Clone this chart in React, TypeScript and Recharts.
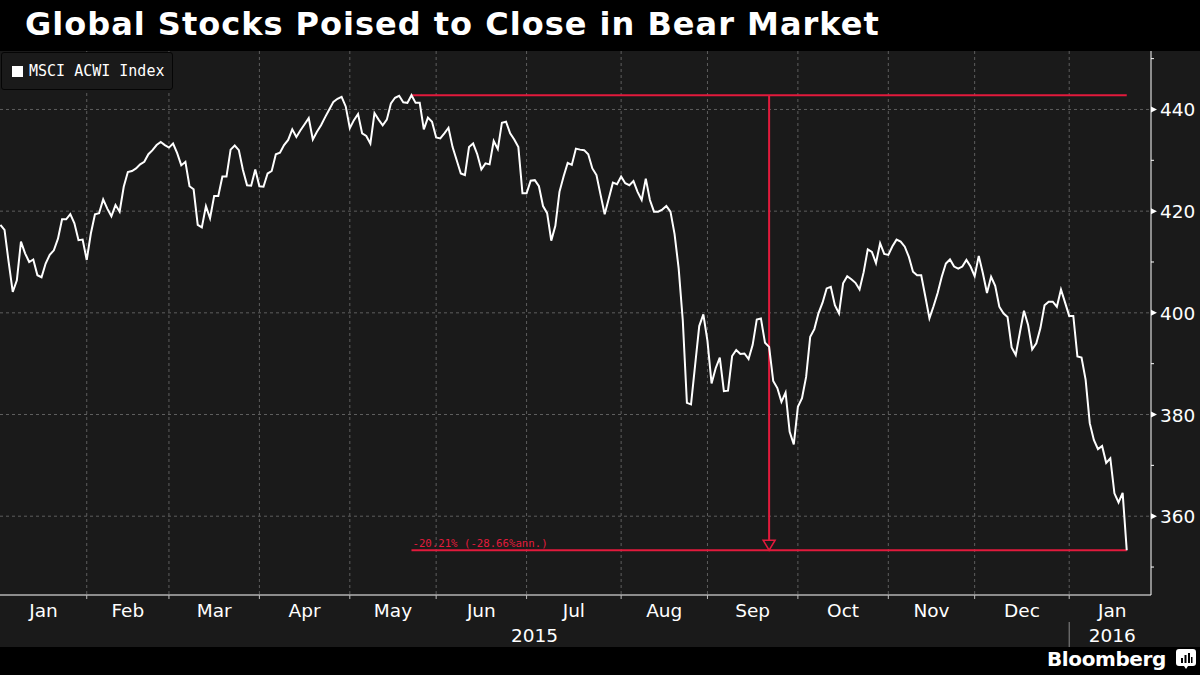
import React from "react";
import {
  LineChart,
  Line,
  XAxis,
  YAxis,
  CartesianGrid,
  ReferenceLine,
  ReferenceDot,
  Legend,
} from "recharts";

// MSCI ACWI daily closes, one array per month (weekdays)
const jan15 = [417.3, 416.3, 410.0, 404.1, 406.4, 414.0, 411.7, 410.0, 410.5, 407.4, 407.0, 409.7, 411.4, 412.3, 414.6, 418.4, 418.4, 419.4, 417.6, 414.3, 414.4];
const feb15 = [410.4, 415.6, 419.4, 419.6, 422.3, 420.5, 419.0, 421.2, 419.9, 424.8, 427.7, 427.9, 428.4, 429.2, 429.7, 431.2, 432.0, 433.0, 433.6, 433.0];
const mar15 = [432.5, 433.3, 431.4, 429.0, 429.7, 424.9, 424.3, 417.3, 416.8, 421.0, 418.6, 423.0, 423.0, 426.8, 426.8, 432.1, 432.9, 432.0, 428.1, 425.1, 425.0, 428.2];
const apr15 = [424.9, 424.8, 427.4, 427.9, 431.2, 431.5, 433.0, 434.0, 436.1, 434.6, 435.9, 437.1, 438.3, 434.1, 435.6, 436.9, 438.5, 440.0, 441.5, 442.1, 442.5, 440.6];
const may15 = [436.3, 437.9, 439.1, 435.3, 434.8, 433.3, 439.3, 438.0, 436.9, 438.0, 441.2, 442.3, 442.7, 441.4, 441.3, 442.8, 441.3, 441.3, 436.1, 438.4, 437.6];
const jun15 = [434.5, 434.3, 435.3, 436.4, 432.6, 430.0, 427.4, 427.1, 432.6, 433.3, 431.2, 428.2, 429.4, 429.2, 433.8, 432.2, 437.4, 437.6, 435.3, 434.1, 432.6, 423.5];
const jul15 = [423.5, 426.0, 426.1, 424.9, 421.0, 419.6, 414.2, 417.1, 423.8, 426.8, 429.5, 429.1, 432.3, 432.1, 432.0, 431.2, 428.4, 427.1, 423.2, 419.4, 422.5, 425.6, 425.3];
const aug15 = [426.8, 425.5, 425.1, 425.9, 423.8, 422.2, 426.4, 422.2, 419.9, 419.9, 420.3, 421.0, 419.9, 415.5, 408.7, 398.5, 382.3, 382.0, 389.7, 397.4, 399.7];
const sep15 = [394.5, 386.1, 389.1, 391.2, 384.6, 384.7, 391.5, 392.7, 391.9, 392.0, 390.9, 393.7, 398.7, 398.9, 394.1, 393.3, 386.6, 385.2, 382.5, 384.3, 376.6, 374.1];
const oct15 = [381.5, 383.2, 387.4, 395.3, 396.8, 399.9, 402.0, 404.8, 405.1, 401.5, 399.9, 405.8, 407.2, 406.6, 405.9, 404.6, 408.0, 412.5, 412.0, 409.8, 413.7, 411.6];
const nov15 = [411.4, 413.1, 414.4, 414.0, 413.0, 411.0, 408.1, 407.4, 407.4, 403.2, 398.9, 401.3, 403.9, 407.1, 409.7, 410.5, 409.1, 408.7, 409.1, 410.4, 409.1];
const dec15 = [407.2, 411.2, 407.8, 403.9, 407.1, 405.3, 401.2, 399.9, 399.2, 393.2, 391.7, 396.1, 400.4, 397.6, 392.8, 394.0, 397.0, 401.5, 402.2, 402.2, 401.2, 404.6, 402.0];
const jan16 = [399.4, 399.4, 391.4, 391.2, 386.8, 378.3, 375.0, 373.2, 373.8, 370.5, 371.4, 364.5, 362.7, 364.6, 353.3];

const monthLabels = ["Jan", "Feb", "Mar", "Apr", "May", "Jun", "Jul", "Aug", "Sep", "Oct", "Nov", "Dec", "Jan"];
const yearLabels = ["2015", "2016"];
const yTicks = [350, 360, 370, 380, 390, 400, 410, 420, 430, 440, 450];
const gridValues = [360, 380, 400, 420, 440];
const seriesName = "MSCI ACWI Index";
const annText = "-20.21% (-28.66%ann.)";
const title = "Global Stocks Poised to Close in Bear Market";

const BG = "#1a1a1a";
const GRID = "#5e5e5e";
const RED = "#e21a3c";
const X_DOMAIN: [number, number] = [0.9, 280.9];
const LAST_MONTH_DAYS = 21;

// build the series: x is the weekday index
const months = [jan15, feb15, mar15, apr15, may15, jun15, jul15, aug15, sep15, oct15, nov15, dec15, jan16];
const monthStarts: number[] = [];
const data: { i: number; v: number }[] = [];
let n = 1;
months.forEach((m) => {
  monthStarts.push(n);
  m.forEach((v) => data.push({ i: n++, v }));
});
const monthEnds = monthStarts.slice(1).concat(monthStarts[monthStarts.length - 1] + LAST_MONTH_DAYS);
const monthCenters = monthStarts.map((s, k) => (s + monthEnds[k]) / 2);
const boundaries = monthStarts.slice(1);
const yearStart = monthStarts[12];
const yearCenters = [(X_DOMAIN[0] + yearStart) / 2, monthCenters[12]];

const vals = data.map((d) => d.v);
const peakV = Math.max(...vals);
const peakI = data[vals.lastIndexOf(peakV)].i;
const last = data[data.length - 1];
const midI = (peakI + last.i) / 2;

const font = "'DejaVu Sans', sans-serif";

const EmptyTick = () => <g />;

const YTick = (props: any) => {
  const { x, y, payload } = props;
  if (payload.value % 20 !== 0) {
    return <line x1={x} x2={x + 3} y1={y} y2={y} stroke="#fff" />;
  }
  return (
    <g>
      <polygon points={`${x},${y - 3} ${x + 6},${y} ${x},${y + 3}`} fill="#fff" />
      <text x={x + 9} y={y + 7} fill="#fff" fontSize={18.5} fontFamily={font}>
        {payload.value}
      </text>
    </g>
  );
};

const MonthTick = (props: any) => {
  const { x, y, payload } = props;
  const k = monthCenters.indexOf(payload.value);
  return (
    <text x={x} y={y + 21} fill="#fff" fontSize={18.5} fontFamily={font} textAnchor="middle">
      {monthLabels[k]}
    </text>
  );
};

const YearTick = (props: any) => {
  const { x, y, payload } = props;
  if (payload.value === yearStart) {
    return <line x1={x} x2={x} y1={y + 25} y2={y + 50} stroke="#8a8a8a" />;
  }
  const k = yearCenters.indexOf(payload.value);
  return (
    <text x={x} y={y + 45} fill="#fff" fontSize={18.5} fontFamily={font} textAnchor="middle">
      {yearLabels[k]}
    </text>
  );
};

const LegendBox = () => (
  <div
    style={{
      width: 172,
      height: 38,
      boxSizing: "border-box",
      border: "1px solid #050505",
      borderRadius: 3,
      background: BG,
      display: "flex",
      alignItems: "center",
      paddingLeft: 10,
      fontFamily: "'DejaVu Sans Mono', monospace",
      fontSize: 15,
      color: "#fff",
    }}
  >
    <span style={{ width: 11, height: 11, background: "#fff", marginRight: 6, display: "inline-block" }} />
    {seriesName}
  </div>
);

const Arrow = (props: any) => {
  const { cx, cy } = props;
  return (
    <polygon
      points={`${cx - 6},${cy - 10} ${cx + 6},${cy - 10} ${cx},${cy}`}
      fill={BG}
      stroke={RED}
      strokeWidth={1.5}
    />
  );
};

const AnnLabel = (props: any) => {
  const { cx, cy } = props;
  return (
    <text x={cx + 1} y={cy - 3} fill={RED} fontSize={10.7} fontFamily="'DejaVu Sans Mono', monospace">
      {annText}
    </text>
  );
};

export default function App() {
  return (
    <div style={{ position: "absolute", left: 0, top: 0, width: 1200, height: 675, background: "#000", overflow: "hidden" }}>
      <div
        style={{
          position: "absolute",
          left: 25,
          top: 8,
          lineHeight: "32px",
          fontFamily: font,
          fontWeight: "bold",
          fontSize: 32,
          letterSpacing: 1,
          color: "#fff",
          whiteSpace: "nowrap",
        }}
      >
        {title}
      </div>
      <div style={{ position: "absolute", left: 0, top: 51, width: 1200, height: 596, background: BG }} />
      <div style={{ position: "absolute", left: 0, top: 0 }}>
        <LineChart width={1200} height={647} data={data} margin={{ top: 51, right: 0, bottom: 49, left: 0 }}>
          <CartesianGrid
            xAxisId="grid"
            stroke={GRID}
            strokeDasharray="3 3"
            horizontalValues={gridValues}
            verticalValues={boundaries}
          />
          <XAxis
            xAxisId="grid"
            dataKey="i"
            type="number"
            domain={X_DOMAIN}
            allowDataOverflow
            ticks={boundaries}
            interval={0}
            height={1}
            tick={<EmptyTick />}
            tickSize={4}
            tickLine={{ stroke: "#bbbbbb" }}
            axisLine={{ stroke: "#ffffff" }}
          />
          <XAxis
            xAxisId="month"
            dataKey="i"
            type="number"
            domain={X_DOMAIN}
            allowDataOverflow
            ticks={monthCenters}
            height={1}
            tickSize={0}
            tickMargin={0}
            tickLine={false}
            axisLine={false}
            tick={<MonthTick />}
            interval={0}
          />
          <XAxis
            xAxisId="year"
            dataKey="i"
            type="number"
            domain={X_DOMAIN}
            allowDataOverflow
            ticks={[yearCenters[0], yearStart, yearCenters[1]]}
            height={1}
            tickSize={0}
            tickMargin={0}
            tickLine={false}
            axisLine={false}
            tick={<YearTick />}
            interval={0}
          />
          <YAxis
            orientation="right"
            width={49}
            type="number"
            domain={[344.5, 451.5]}
            allowDataOverflow
            ticks={yTicks}
            interval={0}
            tickSize={0}
            tickMargin={0}
            tickLine={false}
            axisLine={{ stroke: "#ffffff" }}
            tick={<YTick />}
          />
          <Legend
            layout="horizontal"
            verticalAlign="middle"
            align="center"
            content={<LegendBox />}
            wrapperStyle={{ position: "absolute", top: 52, left: 1, width: "auto" }}
          />
          <ReferenceLine
            xAxisId="grid"
            segment={[{ x: peakI, y: peakV }, { x: last.i, y: peakV }]}
            stroke={RED}
            strokeWidth={2}
            ifOverflow="visible"
          />
          <ReferenceLine
            xAxisId="grid"
            segment={[{ x: peakI, y: last.v }, { x: last.i, y: last.v }]}
            stroke={RED}
            strokeWidth={2}
            ifOverflow="visible"
          />
          <ReferenceLine
            xAxisId="grid"
            segment={[{ x: midI, y: peakV }, { x: midI, y: last.v }]}
            stroke={RED}
            strokeWidth={2}
            ifOverflow="visible"
          />
          <ReferenceDot xAxisId="grid" x={midI} y={last.v} r={0} shape={<Arrow />} ifOverflow="visible" />
          <ReferenceDot xAxisId="grid" x={peakI} y={last.v} r={0} shape={<AnnLabel />} ifOverflow="visible" />
          <Line
            xAxisId="grid"
            type="linear"
            dataKey="v"
            name={seriesName}
            stroke="#ffffff"
            strokeWidth={2}
            dot={false}
            isAnimationActive={false}
          />
        </LineChart>
      </div>
      <div
        style={{
          position: "absolute",
          left: 1047,
          top: 645,
          lineHeight: "28px",
          fontFamily: font,
          fontWeight: "bold",
          fontSize: 20,
          letterSpacing: -0.4,
          color: "#fff",
        }}
      >
        Bloomberg
      </div>
      <svg style={{ position: "absolute", left: 1176, top: 649 }} width={20} height={21}>
        <path d="M3 0 H17 A3 3 0 0 1 20 3 V14 A3 3 0 0 1 17 17 H12 L10 20 L8 17 H3 A3 3 0 0 1 0 14 V3 A3 3 0 0 1 3 0 Z" fill="#fff" />
        <rect x={5} y={9} width={2} height={5} fill="#000" />
        <rect x={8.5} y={6} width={2} height={8} fill="#000" />
        <rect x={12} y={4} width={2} height={10} fill="#000" />
        <rect x={15} y={8} width={1.5} height={6} fill="#000" />
      </svg>
    </div>
  );
}
